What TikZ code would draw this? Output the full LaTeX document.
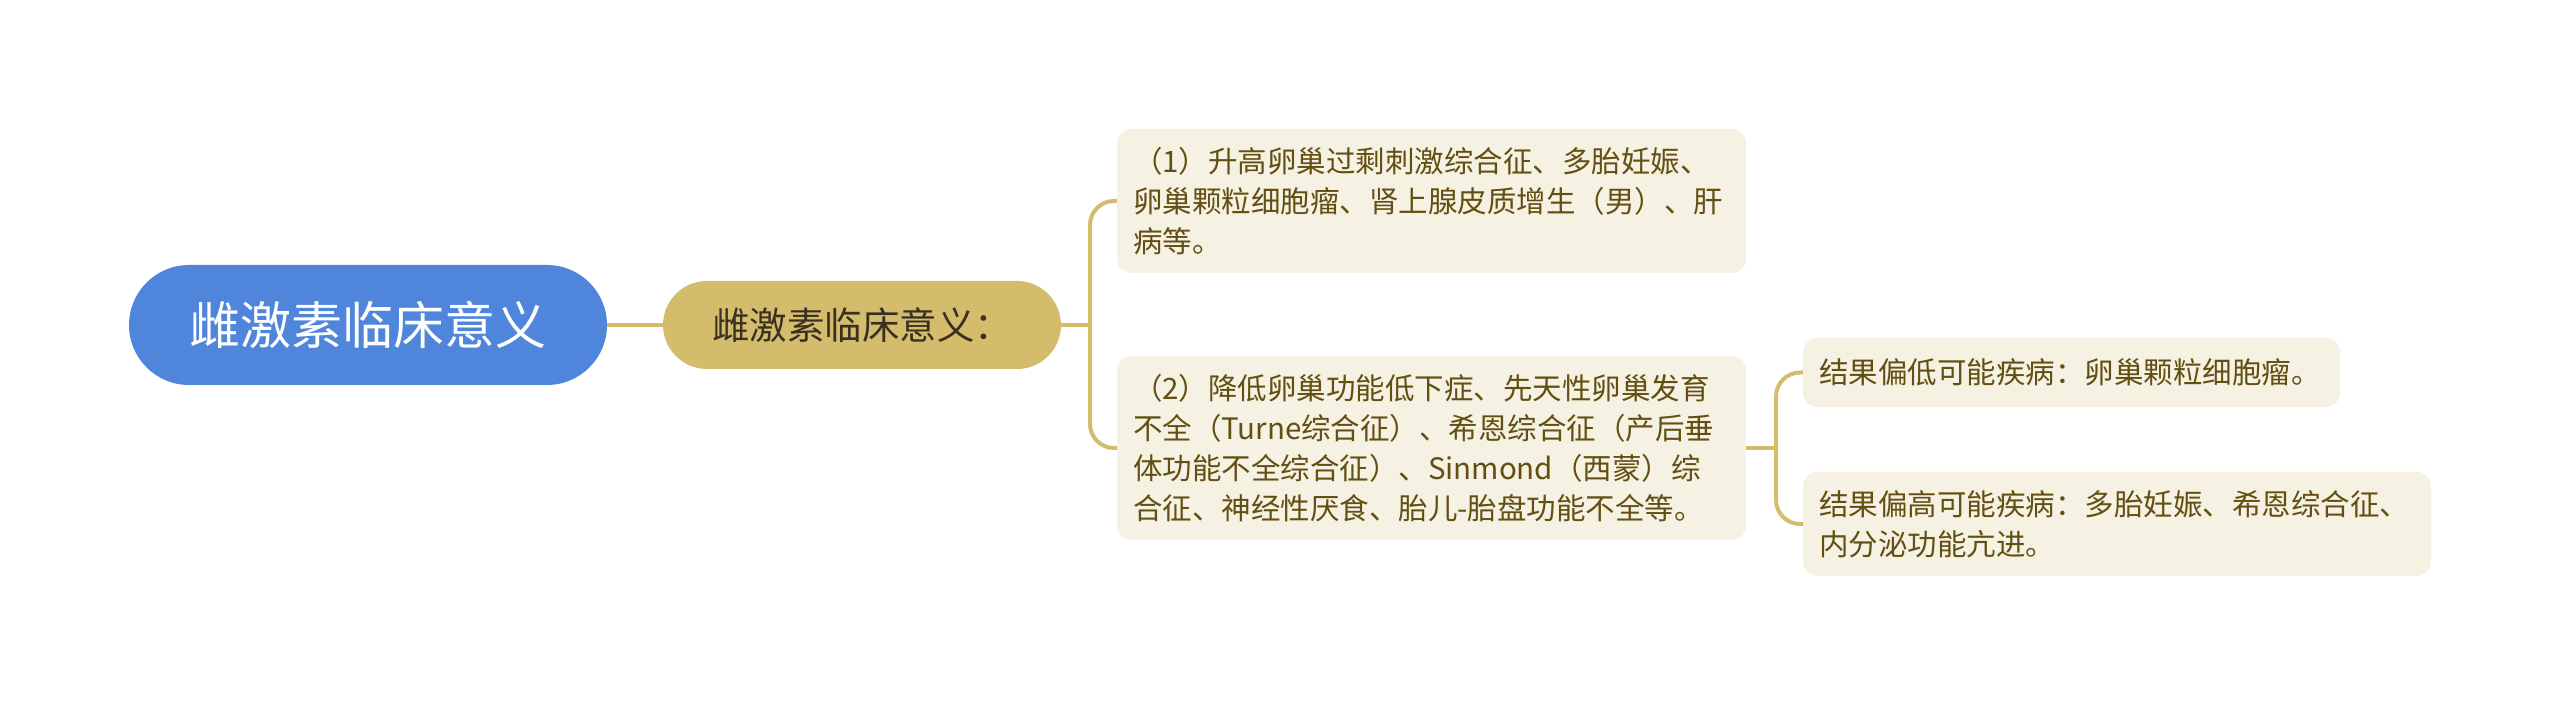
\documentclass[tikz,border=0pt]{standalone}
\usepackage{fontspec}
\setmainfont{Noto Sans CJK SC}
\definecolor{rootblue}{HTML}{4F86DB}
\definecolor{gold}{HTML}{D3BC6B}
\definecolor{cream}{HTML}{F5F1E3}
\definecolor{leaftext}{HTML}{634F12}
\definecolor{midtext}{HTML}{3A3020}
\tikzset{
  rootbox/.style={fill=rootblue, text=white, rounded corners=60pt, minimum width=478pt, minimum height=120pt, inner sep=0pt, font=\fontsize{51}{60}\selectfont},
  midbox/.style={fill=gold, text=midtext, rounded corners=44pt, minimum width=398pt, minimum height=88pt, inner sep=0pt, font=\fontsize{37.5}{44}\selectfont},
  leafbox/.style={fill=cream, text=leaftext, rounded corners=14pt, inner xsep=16pt, inner ysep=0pt, align=left, font=\fontsize{29.5}{40}\selectfont},
  link/.style={draw=gold, line width=4pt, rounded corners=24pt}
}
\begin{document}
\begin{tikzpicture}[x=1pt,y=1pt]
\useasboundingbox (0,0) rectangle (2560,707);
\node[rootbox] (root) at (368,382) {雌激素临床意义};
\node[midbox] (mid) at (862,382) {雌激素临床意义：};
\node[leafbox, text width=597pt, minimum height=144pt] (b1) at (1431.5,506) {（1）升高卵巢过剩刺激综合征、多胎妊娠、\\卵巢颗粒细胞瘤、肾上腺皮质增生（男）、肝\\病等。};
\node[leafbox, text width=597pt, minimum height=184pt] (b2) at (1431.5,259) {（2）降低卵巢功能低下症、先天性卵巢发育\\不全（Turne综合征）、希恩综合征（产后垂\\体功能不全综合征）、Sinmond（西蒙）综\\合征、神经性厌食、胎儿-胎盘功能不全等。};
\node[leafbox, text width=505pt, minimum height=69pt] (b3) at (2071.5,334.5) {结果偏低可能疾病：卵巢颗粒细胞瘤。};
\node[leafbox, text width=596pt, minimum height=104pt] (b4) at (2117,183) {结果偏高可能疾病：多胎妊娠、希恩综合征、\\内分泌功能亢进。};
\coordinate (j1) at (1090,382);
\coordinate (j2) at (1776,259);
\draw[link] (root.east) -- (mid.west);
\draw[link] (mid.east) -- (j1);
\draw[link] (b1.west) -| (j1) |- (b2.west);
\draw[link] (b2.east) -- (j2);
\draw[link] (b3.west) -| (j2) |- (b4.west);
\end{tikzpicture}
\end{document}
